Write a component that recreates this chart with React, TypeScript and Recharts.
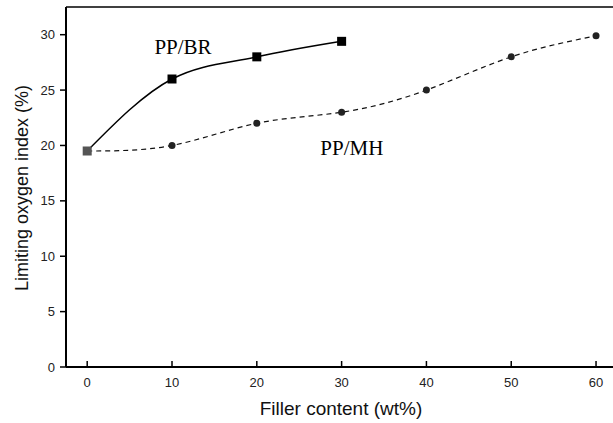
import React from 'react'
import {Label, Line, LineChart, ReferenceDot, ReferenceLine, XAxis, YAxis} from 'recharts'

// filler content (wt%)
const filler = [0, 10, 20, 30, 40, 50, 60]
// limiting oxygen index (%)
const ppBr = [19.5, 26, 28, 29.4]
const ppMh = [19.5, 20, 22, 23, 25, 28, 29.9]
const xTicks = [0, 10, 20, 30, 40, 50, 60]
const yTicks = [0, 5, 10, 15, 20, 25, 30]

const data = filler.map((x, i) => ({
    filler: x,
    br: i < ppBr.length ? ppBr[i] : undefined,
    mh: ppMh[i],
}))

const sans = '"Liberation Sans", Arial, sans-serif'
const serif = '"Liberation Serif", "Times New Roman", serif'

const XTick = (props: any) => {
    const {x, y, payload} = props
    return (
        <g>
            <line x1={x} y1={y} x2={x} y2={y - 6} stroke='#000' strokeWidth={1.5}/>
            <text x={x} y={y + 20} textAnchor='middle' fontFamily={sans} fontSize={13} fill='#222'>
                {payload.value}
            </text>
        </g>
    )
}

const SquareDot = (props: any) => {
    const {cx, cy, index} = props
    if (cx == null || cy == null) return null
    return <rect key={'b' + index} x={cx - 4.5} y={cy - 4.5} width={9} height={9}
                 fill={index === 0 ? '#555' : '#000'}/>
}

const CircleDot = (props: any) => {
    const {cx, cy, index} = props
    if (cx == null || cy == null || index === 0) return null
    return <circle key={'m' + index} cx={cx} cy={cy} r={3.5} fill='#222'/>
}

const App = () => {
    return (
        <div style={{position: 'absolute', left: 0, top: 0}}>
            <LineChart width={613} height={423} data={data}
                       margin={{top: 7, right: 0, bottom: 0, left: 0}}>
                <XAxis dataKey='filler' type='number' domain={[-2.5, 62]} ticks={xTicks}
                       allowDataOverflow tickSize={0} tickMargin={0} tickLine={false}
                       axisLine={{stroke: '#000', strokeWidth: 2}} height={56} tick={<XTick/>}>
                    <Label content={() => (
                        <text x={341} y={415} textAnchor='middle' fontFamily={sans} fontSize={19} fill='#111'>
                            Filler content (wt%)
                        </text>
                    )}/>
                </XAxis>
                <YAxis type='number' domain={[0, 32.5]} ticks={yTicks} allowDataOverflow width={66}
                       tickSize={6} tickMargin={5}
                       tickLine={{stroke: '#000', strokeWidth: 1.5}}
                       axisLine={{stroke: '#000', strokeWidth: 2}}
                       tick={{fontFamily: sans, fontSize: 13, fill: '#222'}}>
                    <Label content={() => (
                        <text x={22} y={188} transform='rotate(-90 22 188)' textAnchor='middle'
                              dominantBaseline='central' fontFamily={sans} fontSize={18} fill='#111'>
                            Limiting oxygen index (%)
                        </text>
                    )}/>
                </YAxis>
                <ReferenceLine y={32.5} stroke='#000' strokeWidth={1.5}/>
                <Line dataKey='mh' type='natural' stroke='#111' strokeWidth={1.2}
                      strokeDasharray='5 4' dot={<CircleDot/>} isAnimationActive={false}/>
                <Line dataKey='br' type='monotone' stroke='#000' strokeWidth={1.5}
                      dot={<SquareDot/>} isAnimationActive={false}/>
                <ReferenceDot x={11.3} y={28.97} r={0} stroke='none'
                              label={{value: 'PP/BR', position: 'center', fontFamily: serif, fontSize: 21, fill: '#000'}}/>
                <ReferenceDot x={31.2} y={19.8} r={0} stroke='none'
                              label={{value: 'PP/MH', position: 'center', fontFamily: serif, fontSize: 21, fill: '#000'}}/>
            </LineChart>
        </div>
    )
}

export default App
